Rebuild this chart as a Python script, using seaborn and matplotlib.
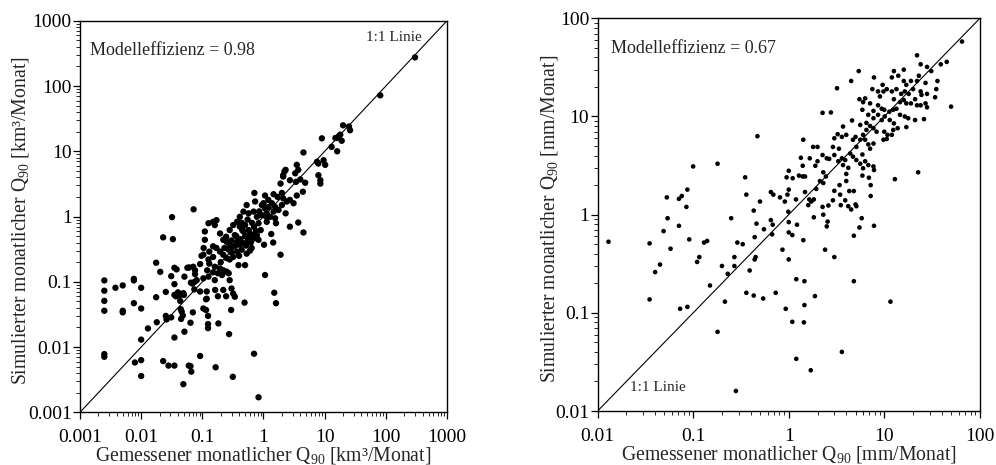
import numpy as np
import pandas as pd
import matplotlib
matplotlib.use("Agg")
import matplotlib.pyplot as plt
import seaborn as sns

# ---------------- data ----------------
# left panel: gemessen vs. simuliert Q90 [km3/Monat]
links = [
    (0.0025, 0.105), (0.0025, 0.073), (0.0025, 0.051), (0.0025, 0.036), (0.0025, 0.0078), (0.0025, 0.0071),
    (0.0038, 0.081), (0.005, 0.088), (0.005, 0.036), (0.005, 0.034),
    (0.0076, 0.111), (0.0076, 0.105), (0.0076, 0.047), (0.0079, 0.0058),
    (0.01, 0.081), (0.01, 0.039), (0.01, 0.013), (0.01, 0.0063), (0.01, 0.0036),
    (0.0129, 0.0193), (0.0176, 0.196), (0.0176, 0.058), (0.018, 0.024), (0.0205, 0.142),
    (0.0229, 0.48), (0.0229, 0.0061), (0.0253, 0.070), (0.0253, 0.030), (0.026, 0.0265), (0.028, 0.0052),
    (0.031, 0.122), (0.031, 0.0285), (0.032, 0.98), (0.033, 0.45), (0.035, 0.092), (0.035, 0.063), (0.037, 0.060),
    (0.035, 0.014), (0.035, 0.0052), (0.035, 0.164), (0.038, 0.155), (0.040, 0.069), (0.0435, 0.063), (0.0435, 0.051),
    (0.0445, 0.038), (0.046, 0.035), (0.045, 0.027), (0.048, 0.0305), (0.049, 0.067), (0.050, 0.063), (0.049, 0.0027),
    (0.051, 0.12), (0.051, 0.0172), (0.057, 0.164), (0.061, 0.166), (0.06, 0.0052), (0.064, 0.0051), (0.066, 0.0042),
    (0.064, 0.0236), (0.065, 0.097), (0.069, 0.094), (0.07, 0.034), (0.072, 1.29), (0.074, 0.0765), (0.075, 0.1),
    (0.076, 0.131), (0.092, 0.187), (0.092, 0.0073), (0.104, 0.039), (0.097, 0.25),
    (0.115, 0.037), (0.124, 0.030), (0.124, 0.0225), (0.124, 0.0195), (0.183, 0.023), (0.274, 0.0158),
    (0.296, 0.037), (0.49, 0.048), (0.165, 0.0049), (0.315, 0.0035), (0.70, 0.0079), (0.83, 0.0017), (0.115, 0.054),
    (2.2, 4.9), (2.1, 4.1), (1.9, 3.2), (2.7, 3.6), (3.4, 3.4), (4.0, 3.7), (4.8, 3.3), (7.9, 4.3), (8.5, 3.2),
    (0.71, 2.3), (1.06, 2.1), (1.46, 2.2), (1.7, 2.0), (2.0, 2.3), (2.1, 1.9), (2.4, 1.7), (2.7, 1.8), (3.1, 1.6),
    (3.5, 2.1), (4.4, 2.4),
    (0.53, 1.5), (0.73, 1.7), (0.94, 1.5), (1.06, 1.33), (1.2, 1.4), (1.37, 1.6), (1.55, 1.4), (1.76, 1.26),
    (1.46, 1.19), (1.13, 1.12), (1.29, 0.99), (2.3, 1.12), (2.0, 1.5),
    (0.47, 1.19), (0.57, 1.12), (0.69, 1.19), (0.78, 0.99), (0.94, 1.05), (0.83, 0.79), (1.13, 0.83), (1.55, 0.94), (1.6, 0.79),
    (0.126, 0.79), (0.15, 0.83), (0.16, 0.74), (0.11, 0.59), (0.195, 0.55), (0.17, 0.88),
    (0.41, 0.99), (0.37, 0.83), (0.41, 0.70), (0.32, 0.74), (0.28, 0.62), (0.34, 0.52), (0.50, 0.74), (0.47, 0.59),
    (0.57, 0.62), (0.64, 0.52), (0.69, 0.46), (0.78, 0.52), (0.83, 0.44), (1.02, 0.37), (0.57, 0.46),
    (0.245, 0.49), (0.22, 0.44), (0.25, 0.41), (0.28, 0.37), (0.32, 0.345), (0.27, 0.31), (0.37, 0.41), (0.41, 0.37),
    (0.47, 0.39), (0.37, 0.29), (0.44, 0.31), (0.64, 0.33), (0.53, 0.27),
    (0.11, 0.44), (0.15, 0.35), (0.17, 0.33), (0.195, 0.29), (0.13, 0.29), (0.15, 0.24), (0.126, 0.22), (0.104, 0.26),
    (0.22, 0.26), (0.25, 0.23), (0.28, 0.22), (0.32, 0.24), (0.39, 0.18), (0.50, 0.18),
    (0.13, 0.19), (0.16, 0.17), (0.195, 0.16), (0.22, 0.15), (0.25, 0.143), (0.15, 0.14), (0.18, 0.135), (0.12, 0.15),
    (0.071, 0.17), (0.076, 0.15), (0.081, 0.106), (0.104, 0.113), (0.126, 0.12), (0.16, 0.106), (0.21, 0.127),
    (0.27, 0.135), (0.28, 0.106),
    (0.092, 0.071), (0.118, 0.071), (0.162, 0.075), (0.22, 0.075), (0.30, 0.079), (0.32, 0.066), (0.34, 0.059),
    (0.245, 0.06), (0.18, 0.06), (0.118, 0.055),
    (2.7, 0.70), (3.7, 0.81), (4.5, 0.57), (1.34, 0.54), (1.44, 0.40), (1.9, 0.26), (1.06, 0.127), (1.5, 0.068), (1.6, 0.047),
    (20, 25), (25, 24), (26, 21), (18, 18), (16, 16), (19, 14.5), (17, 17), (15, 16), (9.0, 15.8), (13, 11.7), (16, 10),
    (4.5, 9.6), (7.5, 6.9), (7.9, 6.5), (9.6, 7.3), (10.2, 6.2), (8.5, 3.6), (3.5, 6.2), (3.7, 5.2), (3.3, 4.6),
    (2.3, 5.2), (2.1, 4.3), (81, 72), (300, 275),
    (0.36, 0.5), (0.42, 0.45), (0.5, 0.5), (0.55, 0.42), (0.6, 0.55), (0.45, 0.62), (0.3, 0.43), (0.52, 0.36),
    (0.62, 0.4), (0.75, 0.6), (0.9, 0.62), (0.85, 1.2), (1.0, 1.6), (1.2, 1.8), (0.3, 0.28), (0.2, 0.2), (0.23, 0.33),
    (0.35, 0.36), (0.4, 0.25), (0.6, 0.3), (0.105, 0.33), (0.44, 0.8), (0.55, 0.9), (0.65, 0.8), (0.7, 0.7), (1.1, 1.0),
]

# right panel: gemessen vs. simuliert Q90 [mm/Monat]
rechts = [
    (0.013, 0.53), (0.035, 0.51), (0.035, 0.137), (0.040, 0.26), (0.045, 0.31), (0.049, 0.68), (0.053, 1.5),
    (0.054, 0.92), (0.058, 0.45), (0.071, 0.77), (0.071, 1.45), (0.076, 1.55), (0.073, 0.11), (0.087, 1.8),
    (0.085, 1.2), (0.087, 0.115), (0.091, 0.56), (0.10, 3.1), (0.11, 0.33), (0.116, 0.37), (0.13, 0.52),
    (0.14, 0.54), (0.15, 0.19), (0.18, 3.3), (0.18, 0.064), (0.20, 0.30), (0.215, 0.13), (0.23, 0.25),
    (0.25, 0.92), (0.27, 0.37), (0.27, 0.30), (0.29, 0.52), (0.28, 0.016), (0.33, 0.50), (0.35, 2.4),
    (0.36, 1.6), (0.36, 0.16), (0.39, 0.27), (0.43, 1.1), (0.43, 0.15), (0.44, 0.35), (0.45, 0.37),
    (0.44, 0.59), (0.46, 0.81), (0.47, 6.3), (0.50, 1.36), (0.54, 0.14), (0.55, 0.71), (0.65, 0.88),
    (0.65, 1.7), (0.68, 0.79), (0.67, 0.63), (0.69, 1.6), (0.73, 0.16), (0.81, 1.5), (0.86, 0.44),
    (0.91, 1.36), (0.93, 0.11), (0.95, 2.4), (0.97, 1.6), (0.99, 1.07), (1.0, 0.84), (1.0, 0.66),
    (1.0, 0.35), (1.0, 2.8), (1.0, 1.8), (1.09, 0.62), (1.1, 2.35), (1.09, 0.081), (1.19, 1.43),
    (1.2, 0.22), (1.22, 0.79), (1.2, 0.034), (1.34, 3.8), (1.4, 2.45), (1.42, 5.8), (1.4, 3.15),
    (1.42, 0.55), (1.44, 0.08), (1.46, 0.21), (1.46, 0.12), (1.48, 1.7), (1.6, 1.25), (1.64, 1.43),
    (1.7, 0.026), (1.72, 1.36), (1.8, 4.9), (1.83, 1.43), (1.83, 0.94), (1.88, 0.148), (1.9, 3.15),
    (1.94, 1.83), (2.0, 4.9), (2.12, 2.2), (2.26, 4.05), (2.26, 10.9), (2.3, 2.7), (2.3, 2.1), (2.3, 1.0),
    (2.4, 0.44), (2.5, 0.76), (2.55, 0.85), (2.6, 1.24), (2.65, 3.7), (2.76, 11), (2.9, 1.4), (2.9, 4.9),
    (3.0, 0.37), (3.0, 6.0), (3.0, 1.75), (3.2, 19.4), (3.25, 6.6), (3.3, 3.5), (3.35, 4.7), (3.4, 2.0),
    (3.45, 1.6), (3.5, 1.25), (3.6, 0.040),
    (1.66, 3.75), (2.0, 3.5), (1.28, 2.5), (1.48, 2.45), (2.45, 2.45), (4.0, 2.6), (2.26, 1.2), (3.9, 1.4),
    (4.0, 2.2), (4.3, 1.74), (4.2, 1.22), (4.5, 1.13), (4.8, 1.74), (4.8, 0.61), (5.0, 1.27), (5.1, 1.22),
    (4.8, 0.21), (5.5, 0.74), (5.8, 0.92), (5.9, 2.5), (5.9, 4.1), (6.0, 2.97), (6.9, 2.38), (7.2, 2.0),
    (7.2, 1.55), (7.8, 0.77), (7.8, 2.85), (12.9, 2.3), (11.6, 0.13), (22.6, 2.7),
    (65, 58), (22, 42), (24, 34), (28, 32), (31, 29), (39, 34), (45, 36), (5.4, 29), (4.5, 23), (7.8, 25),
    (12.6, 29), (16, 30), (12, 25), (14, 26), (16, 23), (17, 21), (19, 23), (22, 23), (23, 26), (27, 22),
    (36, 23), (9.6, 21), (7.5, 19), (8.6, 18), (9.8, 18), (10.6, 19), (9.0, 16), (12, 18), (13.4, 19),
    (15, 17), (16.4, 18), (18, 17), (20, 19), (21, 15), (24, 18), (24.5, 16.6), (28, 17), (35, 19),
    (34, 15.7), (12.6, 15), (14.6, 14), (16, 14.7), (17, 13.6), (19, 13.6), (22, 13), (24, 13), (27, 13.6),
    (28, 12.4), (8.6, 13), (9.4, 12), (10, 11.7), (11.3, 11.2), (12.4, 11.7), (13.4, 12), (14.6, 10.4),
    (16.4, 10), (17.8, 9.6), (21, 9.2), (26, 9.4), (5.5, 15), (6.0, 14), (6.3, 15.3), (5.9, 11.7),
    (7.1, 13.6), (7.7, 11.4), (6.8, 10.4), (7.7, 9.6), (8.6, 10.4), (9.4, 9.2), (10.1, 10), (11.4, 9.2),
    (12.6, 8.5), (13.8, 7.6), (17, 7.8), (10, 7.0), (10.8, 6.5), (12, 6.5), (12.4, 7.3), (9.8, 5.8),
    (10.6, 5.9), (50, 12.6), (4.6, 9.1), (5.6, 8.2), (6.5, 8.6), (7.1, 8.0), (7.7, 7.6), (8.3, 7.0),
    (6.5, 7.3), (6.0, 6.5), (5.6, 5.8), (5.0, 6.2), (6.3, 5.8), (6.8, 5.2), (7.7, 5.3), (7.1, 4.7),
    (3.7, 7.9), (4.0, 6.5), (3.6, 6.2), (4.7, 5.8), (5.1, 4.9), (3.0, 4.05), (4.4, 4.2), (4.7, 3.9),
    (2.5, 3.75), (3.6, 3.75), (3.9, 3.6), (5.1, 3.6), (5.6, 3.3), (6.3, 3.5), (6.8, 3.2), (7.7, 3.1),
    (3.7, 3.2), (4.2, 3.0),
]

ticks_links = [0.001, 0.01, 0.1, 1, 10, 100, 1000]
ticklabels_links = ["0.001", "0.01", "0.1", "1", "10", "100", "1000"]
ticks_rechts = [0.01, 0.1, 1, 10, 100]
ticklabels_rechts = ["0.01", "0.1", "1", "10", "100"]

effizienz = ["Modelleffizienz = 0.98", "Modelleffizienz = 0.67"]
xlabels = [r"Gemessener monatlicher Q$_{90}$ [km³/Monat]", r"Gemessener monatlicher Q$_{90}$ [mm/Monat]"]
ylabels = [r"Simulierter monatlicher Q$_{90}$ [km³/Monat]", r"Simulierter monatlicher Q$_{90}$ [mm/Monat]"]
linie_text = "1:1 Linie"

# ---------------- style ----------------
sns.set_theme(style="white")
plt.rcParams["font.family"] = ["Liberation Serif", "DejaVu Serif"]
plt.rcParams["mathtext.fontset"] = "custom"
plt.rcParams["mathtext.rm"] = "Liberation Serif"
plt.rcParams["mathtext.it"] = "Liberation Serif:italic"
plt.rcParams["mathtext.bf"] = "Liberation Serif:bold"

fig = plt.figure(figsize=(9.96, 4.65), dpi=100)
ax1 = fig.add_axes([0.0803, 0.1133, 0.3685, 0.842])
ax2 = fig.add_axes([0.6000, 0.1161, 0.3838, 0.8445])

df_l = pd.DataFrame(links, columns=["gem", "sim"])
df_r = pd.DataFrame(rechts, columns=["gem", "sim"])


def style_axis(ax, ticks, labels, xlabel, ylabel, xlab_y, ylab_x):
    ax.set_xscale("log")
    ax.set_yscale("log")
    ax.set_xlim(ticks[0], ticks[-1])
    ax.set_ylim(ticks[0], ticks[-1])
    ax.set_xticks(ticks)
    ax.set_xticklabels(labels)
    ax.set_yticks(ticks)
    ax.set_yticklabels(labels)
    ax.xaxis.set_minor_locator(matplotlib.ticker.LogLocator(base=10, subs=np.arange(2, 10), numticks=20))
    ax.yaxis.set_minor_locator(matplotlib.ticker.LogLocator(base=10, subs=np.arange(2, 10), numticks=20))
    ax.xaxis.set_minor_formatter(matplotlib.ticker.NullFormatter())
    ax.yaxis.set_minor_formatter(matplotlib.ticker.NullFormatter())
    ax.tick_params(which="major", direction="out", length=5, width=0.9, labelsize=14,
                   bottom=True, left=True, top=False, right=False, colors="black")
    ax.tick_params(which="minor", direction="out", length=3, width=0.7,
                   bottom=True, left=True, top=False, right=False)
    ax.tick_params(axis="x", which="major", pad=7)
    ax.tick_params(axis="y", which="major", pad=1)
    for s in ax.spines.values():
        s.set_color("black")
        s.set_linewidth(1.0)
        s.set_visible(True)
    ax.set_xlabel(xlabel, fontsize=14.2)
    ax.set_ylabel(ylabel, fontsize=14.2)
    ax.xaxis.label.set_va("center")
    ax.yaxis.label.set_va("center")
    ax.xaxis.set_label_coords(0.5, xlab_y)
    ax.yaxis.set_label_coords(ylab_x, 0.49)
    ax.set_facecolor("white")
    ax.grid(False)


for ax, df, ticks, labels, xl, yl, ms, xly, ylx in [
    (ax1, df_l, ticks_links, ticklabels_links, xlabels[0], ylabels[0], 21, -0.110, -0.163),
    (ax2, df_r, ticks_rechts, ticklabels_rechts, xlabels[1], ylabels[1], 11, -0.112, -0.125),
]:
    ax.plot([ticks[0], ticks[-1]], [ticks[0], ticks[-1]], color="black", lw=0.8, zorder=1)
    sns.scatterplot(data=df, x="gem", y="sim", ax=ax, color="black", s=ms, edgecolor="none",
                    linewidth=0, zorder=3, legend=False)
    style_axis(ax, ticks, labels, xl, yl, xly, ylx)

ax1.text(0.027, 0.925, effizienz[0], transform=ax1.transAxes, fontsize=13, ha="left", va="center")
ax1.text(0.932, 0.957, linie_text, transform=ax1.transAxes, fontsize=11, ha="right", va="center")
ax2.text(0.035, 0.923, effizienz[1], transform=ax2.transAxes, fontsize=13, ha="left", va="center")
ax2.text(0.085, 0.059, linie_text, transform=ax2.transAxes, fontsize=11, ha="left", va="center")

fig.savefig("out.png", dpi=100, facecolor="white")
